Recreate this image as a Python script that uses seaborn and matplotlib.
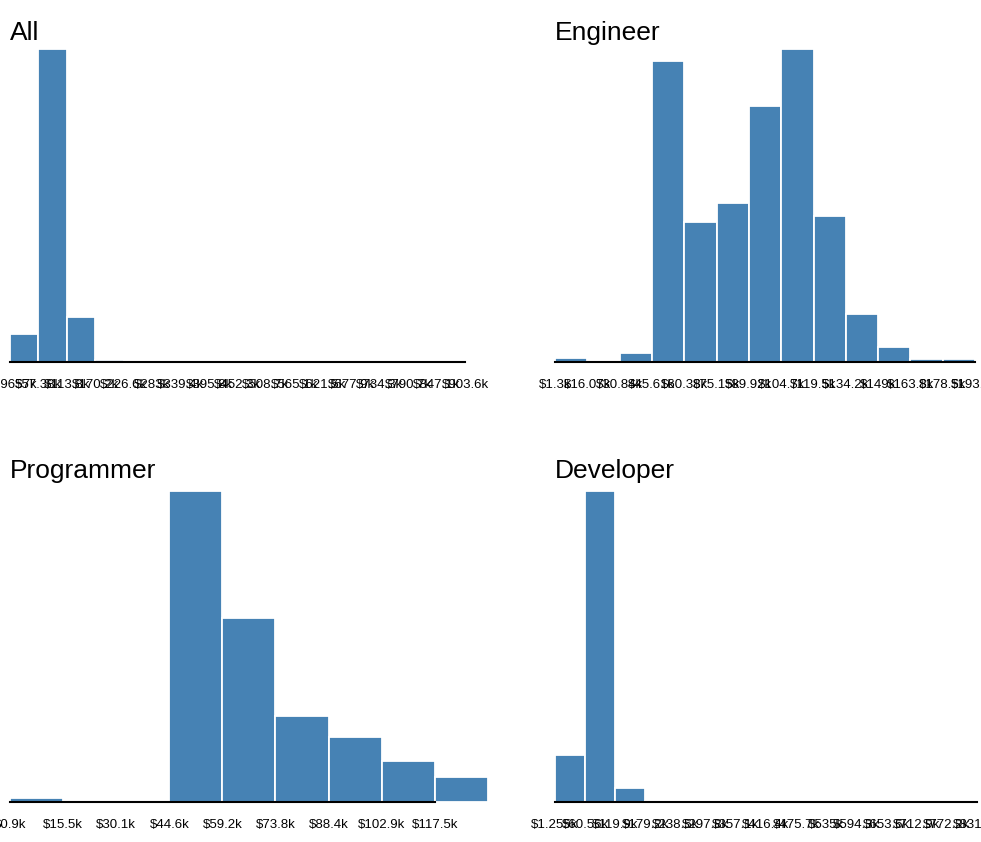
import numpy as np
import pandas as pd
import matplotlib
matplotlib.use("Agg")
import matplotlib.pyplot as plt
import seaborn as sns

# --- data: bin edges (in $k) and counts per bin ---
all_edges = [0.9657, 57.38, 113.8, 170.2, 226.6, 283.0, 339.4, 395.8, 452.3,
             508.7, 565.1, 621.5, 677.9, 734.3, 790.7, 847.1, 903.6]
all_counts = [290, 3200, 465, 25, 2, 1, 1, 0, 0, 0, 0, 0, 0, 0, 0, 1]

eng_edges = [1.30, 16.07, 30.84, 45.61, 60.38, 75.15, 89.92, 104.7, 119.5,
             134.2, 149.0, 163.8, 178.5, 193.3]
eng_counts = [3, 0, 6, 202, 94, 107, 172, 210, 98, 32, 10, 2, 2]

prog_edges = [0.94, 15.51, 30.08, 44.65, 59.22, 73.79, 88.36, 102.9, 117.5, 132.1]
prog_counts = [1, 0, 0, 76, 45, 21, 16, 10, 6]

dev_edges = [1.255, 60.56, 119.9, 179.2, 238.5, 297.8, 357.1, 416.4, 475.7,
             535.0, 594.3, 653.6, 712.9, 772.2, 831.5]
dev_counts = [33, 217, 10, 1, 0, 0, 0, 0, 0, 0, 0, 0, 0, 0]

# which edges carry a visible tick mark
all_marks = [0, 2, 4, 5, 6, 7, 9, 12, 14, 16]
eng_marks = [1, 3, 5, 6, 8, 9, 11, 12]
prog_marks = [0, 1, 3, 4, 5, 6, 8]
dev_marks = [1, 2, 3, 9, 10, 11, 12, 13, 14]

sns.set_style("white")
plt.rcParams['font.family'] = ['Liberation Sans', 'DejaVu Sans']

W, H = 981, 842
fig = plt.figure(figsize=(W / 100, H / 100), dpi=100)


def fmt4(v):
    # d3-like "$.4s" formatting, values already in thousands
    return f"${v:.4g}k"


def fmt1(v):
    return f"${v:.1f}k"


def panel(name, edges, counts, marks, box, n_labels, fmt, title_y, spine_end=None):
    left, right, base, top = box
    ax = fig.add_axes([left / W, 1 - base / H, (right - left) / W, (base - top) / H])
    e = np.array(edges)
    df = pd.DataFrame({"salary": (e[:-1] + e[1:]) / 2, "count": counts})
    sns.histplot(data=df, x="salary", weights="count", bins=list(edges),
                 color="#4682b4", edgecolor="white", linewidth=1.3, alpha=1, ax=ax)
    ax.set_xlim(e[0], e[-1])
    ax.set_ylim(0, max(counts))
    ax.set_xlabel("")
    ax.set_ylabel("")
    ax.set_yticks([])
    for s in ["left", "top", "right"]:
        ax.spines[s].set_visible(False)
    ax.spines["bottom"].set_color("black")
    ax.spines["bottom"].set_linewidth(1.5)
    if spine_end is not None:
        ax.spines["bottom"].set_bounds(e[0], e[spine_end])
    lab_edges = e[:n_labels]
    ax.set_xticks(lab_edges, [fmt(v) for v in lab_edges])
    ax.tick_params(axis="x", which="major", length=0, pad=12, labelsize=9.5,
                   labelcolor="black")
    ax.set_xticks(e[marks], minor=True)
    ax.tick_params(axis="x", which="minor", length=7, width=1.2, color="black",
                   bottom=True)
    for lab in ax.get_xticklabels():
        lab.set_clip_on(False)
    fig.text(left / W, 1 - title_y / H, name, fontsize=19, ha="left",
             va="baseline", color="black")
    return ax


panel("All", all_edges, all_counts, all_marks, (10, 465, 362, 49), 17, fmt4, 40)
panel("Engineer", eng_edges, eng_counts, eng_marks, (555, 975, 362, 49), 14, fmt4, 40)
panel("Programmer", prog_edges, prog_counts, prog_marks, (10, 488, 802, 491), 9, fmt1,
      478, spine_end=8)
panel("Developer", dev_edges, dev_counts, dev_marks, (555, 977, 802, 491), 15, fmt4, 478)

fig.savefig("out.png", dpi=100, facecolor="white")
